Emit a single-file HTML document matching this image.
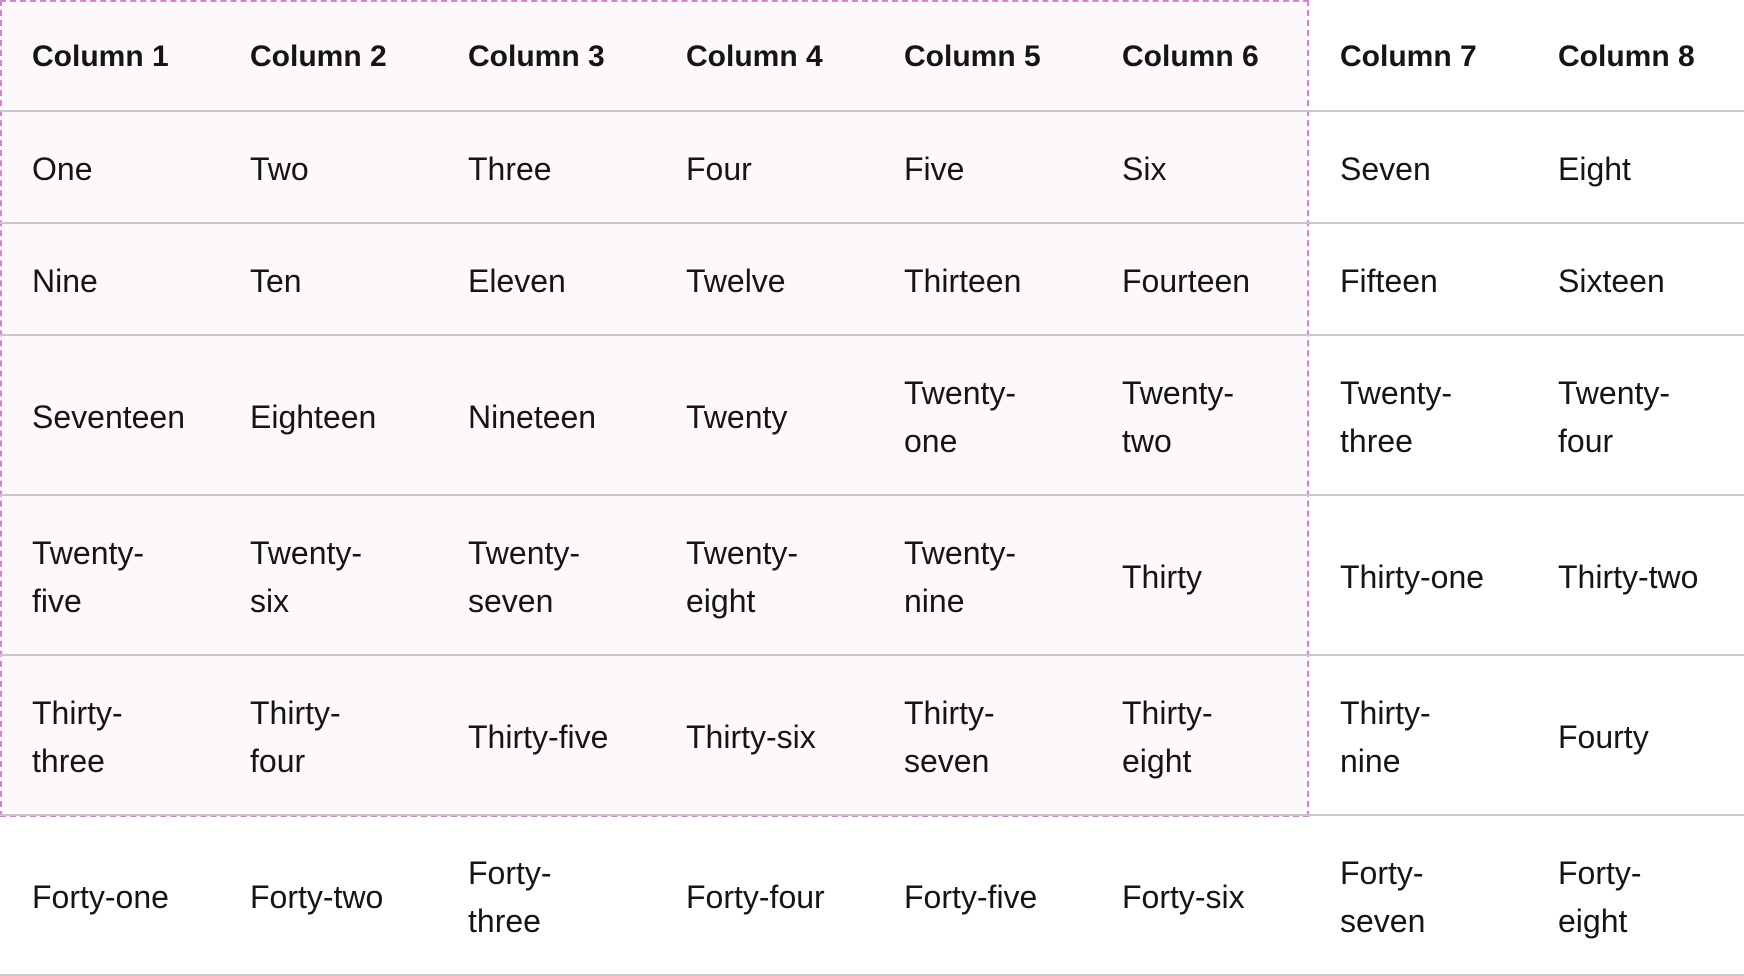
<!DOCTYPE html>
<html><head><meta charset="utf-8"><style>
html,body{margin:0;padding:0;background:#fff;width:1744px;height:976px;overflow:hidden}
body{font-family:"Liberation Sans",sans-serif;font-size:32px;line-height:48px;color:#151515;position:relative}
.hl{position:absolute;left:0;top:0;width:1305px;height:813px;background:#fdf8fc;border:2px dashed #d97fdb;}
.line{position:absolute;left:0;width:1744px;height:2px;background:#c8c6c9}
.c{position:absolute;width:154px;white-space:nowrap;display:flex;align-items:center;padding-top:3px;box-sizing:border-box}
.h{font-weight:bold;font-size:30px}
</style></head><body>
<div class="hl"></div>
<div id="t"></div>
<script>
var rows=[[0,111],[111,223],[223,335],[335,495],[495,655],[655,815],[815,975]];
var data=[
["Column 1","Column 2","Column 3","Column 4","Column 5","Column 6","Column 7","Column 8"],
["One","Two","Three","Four","Five","Six","Seven","Eight"],
["Nine","Ten","Eleven","Twelve","Thirteen","Fourteen","Fifteen","Sixteen"],
["Seventeen","Eighteen","Nineteen","Twenty","Twenty-<br>one","Twenty-<br>two","Twenty-<br>three","Twenty-<br>four"],
["Twenty-<br>five","Twenty-<br>six","Twenty-<br>seven","Twenty-<br>eight","Twenty-<br>nine","Thirty","Thirty-one","Thirty-two"],
["Thirty-<br>three","Thirty-<br>four","Thirty-five","Thirty-six","Thirty-<br>seven","Thirty-<br>eight","Thirty-<br>nine","Fourty"],
["Forty-one","Forty-two","Forty-<br>three","Forty-four","Forty-five","Forty-six","Forty-<br>seven","Forty-<br>eight"]];
var h="";
for(var r=0;r<7;r++){
 var y0=rows[r][0],y1=rows[r][1];
 h+='<div class="line" style="top:'+(y1-1)+'px"></div>';
 for(var c=0;c<8;c++){
  h+='<div class="c'+(r==0?' h':'')+'" style="left:'+(c*218+32)+'px;top:'+y0+'px;height:'+(y1-y0)+'px"><div>'+data[r][c]+'</div></div>';
 }
}
document.getElementById("t").innerHTML=h;
</script>
</body></html>
